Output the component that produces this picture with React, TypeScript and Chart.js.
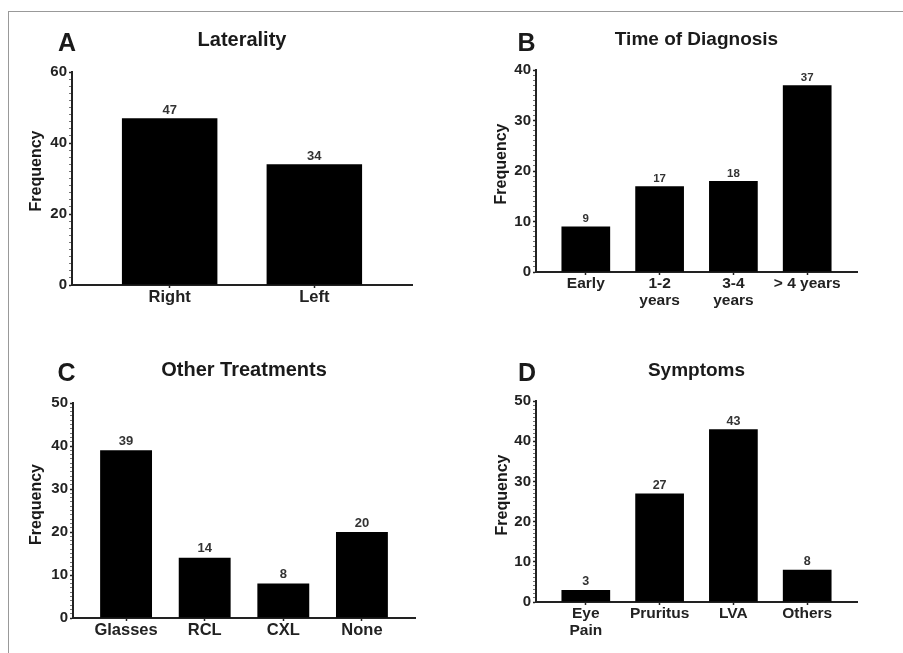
import React, { useEffect, useRef } from "react";
import { Chart, registerables } from "chart.js";

Chart.register(...registerables);

const FONT = "'Liberation Sans', Arial, Helvetica, sans-serif";

// ---- Data ----
const lateralityLabels = [["Right"], ["Left"]];
const lateralityValues = [47, 34];
const lateralityTicks = [0, 20, 40, 60];

const diagnosisLabels = [["Early"], ["1-2", "years"], ["3-4", "years"], ["> 4 years"]];
const diagnosisValues = [9, 17, 18, 37];
const diagnosisTicks = [0, 10, 20, 30, 40];

const treatmentLabels = [["Glasses"], ["RCL"], ["CXL"], ["None"]];
const treatmentValues = [39, 14, 8, 20];
const treatmentTicks = [0, 10, 20, 30, 40, 50];

const symptomLabels = [["Eye", "Pain"], ["Pruritus"], ["LVA"], ["Others"]];
const symptomValues = [3, 27, 43, 8];
const symptomTicks = [0, 10, 20, 30, 40, 50];

const yTitle = "Frequency";

// ---- Layout (page coordinates) ----
type Panel = {
  letter: string;
  title: string;
  labels: string[][];
  values: number[];
  ticks: number[];
  canvas: { x: number; y: number; w: number; h: number };
  area: { l: number; t: number; r: number; b: number };
  letterDx: number;
  letterDy: number;
  titleDy: number;
  yTitleDx: number;
  yTitleDy: number;
  catFont: number;
  titleFont: number;
  valueFont: number;
  valueDy: number;
};

const panels: Panel[] = [
  {
    letter: "A", title: "Laterality", labels: lateralityLabels, values: lateralityValues, ticks: lateralityTicks,
    canvas: { x: 10, y: 13, w: 440, h: 305 }, area: { l: 72, t: 72, r: 412, b: 285 },
    letterDx: -5, letterDy: -28, titleDy: -31.5, yTitleDx: -35.5, yTitleDy: -7.5,
    catFont: 16.5, titleFont: 20, valueFont: 13, valueDy: 8,
  },
  {
    letter: "B", title: "Time of Diagnosis", labels: diagnosisLabels, values: diagnosisValues, ticks: diagnosisTicks,
    canvas: { x: 452, y: 13, w: 451, h: 305 }, area: { l: 536, t: 70, r: 857, b: 272 },
    letterDx: -9.5, letterDy: -25.5, titleDy: -30, yTitleDx: -34, yTitleDy: -7,
    catFont: 15.5, titleFont: 19, valueFont: 11.5, valueDy: 7.5,
  },
  {
    letter: "C", title: "Other Treatments", labels: treatmentLabels, values: treatmentValues, ticks: treatmentTicks,
    canvas: { x: 10, y: 325, w: 440, h: 328 }, area: { l: 73, t: 403, r: 415, b: 618 },
    letterDx: -6.5, letterDy: -28.5, titleDy: -32.5, yTitleDx: -36.5, yTitleDy: -6,
    catFont: 16.5, titleFont: 20, valueFont: 13, valueDy: 9,
  },
  {
    letter: "D", title: "Symptoms", labels: symptomLabels, values: symptomValues, ticks: symptomTicks,
    canvas: { x: 452, y: 325, w: 451, h: 328 }, area: { l: 536, t: 401, r: 857, b: 602 },
    letterDx: -9, letterDy: -26.5, titleDy: -30, yTitleDx: -33.5, yTitleDy: -6.5,
    catFont: 15.5, titleFont: 19, valueFont: 12.5, valueDy: 8,
  },
];

function makeConfig(p: Panel): any {
  const major = p.ticks[1] - p.ticks[0];
  const minor = major / 10;
  const max = p.ticks[p.ticks.length - 1];
  const n = p.labels.length;
  const yW = 56;
  const xH = p.canvas.y + p.canvas.h - p.area.b;
  const padding = {
    left: p.area.l - p.canvas.x - yW,
    top: p.area.t - p.canvas.y,
    right: p.canvas.x + p.canvas.w - p.area.r,
    bottom: 0,
  };
  const isMajor = (v: number) => Math.abs(v / major - Math.round(v / major)) < 1e-6;

  const decor = {
    id: "decor",
    afterDatasetsDraw(chart: any) {
      const ctx = chart.ctx;
      const meta = chart.getDatasetMeta(0);
      const data = chart.data.datasets[0].data;
      ctx.save();
      ctx.fillStyle = "#333";
      ctx.font = `bold ${p.valueFont}px ${FONT}`;
      ctx.textAlign = "center";
      ctx.textBaseline = "middle";
      meta.data.forEach((bar: any, i: number) => {
        ctx.fillText(String(data[i].y), bar.x, bar.y - p.valueDy);
      });
      ctx.restore();
    },
    afterDraw(chart: any) {
      const ctx = chart.ctx;
      const a = chart.chartArea;
      ctx.save();
      ctx.fillStyle = "#1a1a1a";
      ctx.textAlign = "center";
      ctx.textBaseline = "middle";
      ctx.font = `bold ${p.titleFont}px ${FONT}`;
      ctx.fillText(p.title, (a.left + a.right) / 2, a.top + p.titleDy);
      ctx.font = `bold 25px ${FONT}`;
      ctx.fillText(p.letter, a.left + p.letterDx, a.top + p.letterDy);
      ctx.translate(a.left + p.yTitleDx, (a.top + a.bottom) / 2 + p.yTitleDy);
      ctx.rotate(-Math.PI / 2);
      ctx.font = `bold 16px ${FONT}`;
      ctx.fillText(yTitle, 0, 0);
      ctx.restore();
    },
  };

  return {
    type: "bar",
    data: {
      datasets: [
        {
          data: p.values.map((v, i) => ({ x: i, y: v })),
          backgroundColor: "#000",
          borderColor: "#000",
          borderWidth: 0,
          barPercentage: 0.66,
          categoryPercentage: 1,
        },
      ],
    },
    options: {
      responsive: false,
      animation: false,
      devicePixelRatio: 1,
      layout: { padding },
      plugins: {
        legend: { display: false },
        tooltip: { enabled: false },
        title: { display: false },
      },
      scales: {
        x: {
          type: "linear",
          offset: false,
          min: -0.675,
          max: n - 1 + 0.675,
          afterBuildTicks: (s: any) => {
            s.ticks = p.labels.map((_, i) => ({ value: i }));
          },
          afterFit: (s: any) => {
            s.height = xH;
          },
          grid: {
            display: true,
            offset: false,
            drawOnChartArea: false,
            drawTicks: true,
            tickLength: 3,
            tickColor: "#222",
            tickWidth: 1.5,
          },
          border: { display: true, color: "#222", width: 2 },
          ticks: {
            autoSkip: false,
            maxRotation: 0,
            minRotation: 0,
            padding: 1,
            color: "#222",
            font: { family: FONT, size: p.catFont, weight: "bold", lineHeight: 1.05 },
            callback: (v: number) => p.labels[Math.round(v)],
          },
        },
        y: {
          type: "linear",
          min: 0,
          max,
          afterFit: (s: any) => {
            s.width = yW;
          },
          grid: {
            display: true,
            drawOnChartArea: false,
            drawTicks: true,
            tickLength: 3,
            tickColor: (c: any) => (c.tick && isMajor(c.tick.value) ? "#222" : "#777"),
            tickWidth: (c: any) => (c.tick && isMajor(c.tick.value) ? 1.5 : 1),
          },
          border: { display: true, color: "#222", width: 2 },
          ticks: {
            stepSize: minor,
            autoSkip: false,
            padding: 2,
            color: "#222",
            font: { family: FONT, size: 15, weight: "bold" },
            callback: (v: number) => (isMajor(v) ? String(Math.round(v)) : ""),
          },
        },
      },
    },
    plugins: [decor],
  };
}

function PanelChart({ p }: { p: Panel }) {
  const ref = useRef<HTMLCanvasElement | null>(null);
  useEffect(() => {
    if (!ref.current) return;
    const chart = new Chart(ref.current, makeConfig(p));
    return () => chart.destroy();
  }, [p]);
  return (
    <canvas
      ref={ref}
      width={p.canvas.w}
      height={p.canvas.h}
      style={{
        position: "absolute",
        left: p.canvas.x,
        top: p.canvas.y,
        width: p.canvas.w,
        height: p.canvas.h,
      }}
    />
  );
}

export default function App() {
  return (
    <div
      style={{
        position: "absolute",
        left: 0,
        top: 0,
        width: 903,
        height: 653,
        background: "#fff",
        overflow: "hidden",
      }}
    >
      <div
        style={{
          position: "absolute",
          left: 8,
          top: 11,
          right: 0,
          bottom: 0,
          borderTop: "1px solid #999",
          borderLeft: "1px solid #999",
        }}
      />
      {panels.map((p) => (
        <PanelChart key={p.letter} p={p} />
      ))}
    </div>
  );
}
